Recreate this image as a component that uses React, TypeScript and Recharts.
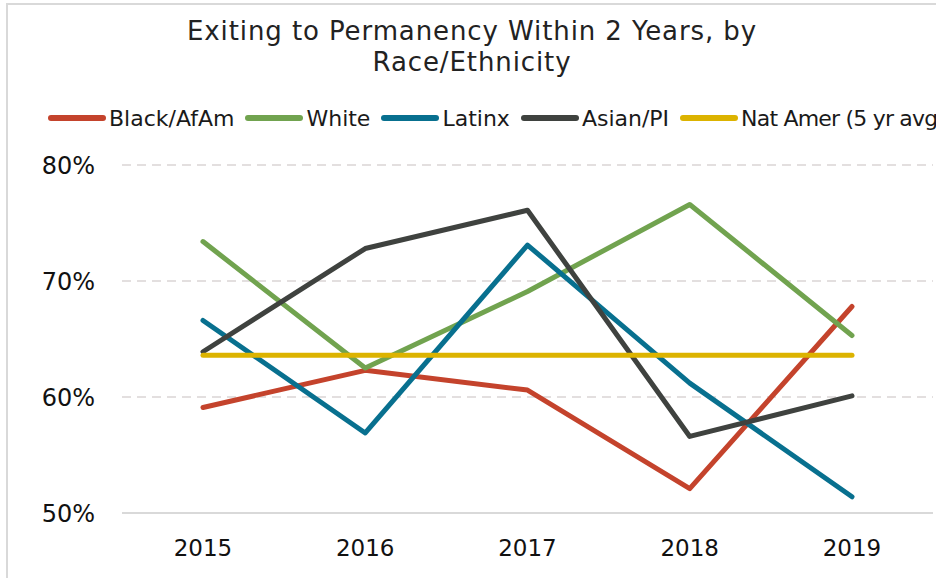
import React from 'react';
import { LineChart, Line, XAxis, YAxis, CartesianGrid } from 'recharts';

const years = ['2015', '2016', '2017', '2018', '2019'];
const blackAfAm = [59.1, 62.3, 60.6, 52.1, 67.8];
const white = [73.4, 62.5, 69.1, 76.6, 65.3];
const latinx = [66.6, 56.9, 73.1, 61.2, 51.4];
const asianPI = [63.9, 72.8, 76.1, 56.6, 60.1];
const natAmer = [63.6, 63.6, 63.6, 63.6, 63.6];
const yTicks = [50, 60, 70, 80];

const seriesInfo = [
  { key: 'black', name: 'Black/AfAm', color: '#c4432c', values: blackAfAm },
  { key: 'white', name: 'White', color: '#71a34f', values: white },
  { key: 'latinx', name: 'Latinx', color: '#08708f', values: latinx },
  { key: 'asian', name: 'Asian/PI', color: '#3f423f', values: asianPI },
  { key: 'natamer', name: 'Nat Amer (5 yr avg)', color: '#dcb300', values: natAmer },
];

const data = years.map((y, i) => {
  const row: Record<string, any> = { year: y };
  seriesInfo.forEach((s) => { row[s.key] = s.values[i]; });
  return row;
});

const FONT = '"DejaVu Sans", sans-serif';

export default function App() {
  return (
    <div style={{ position: 'fixed', left: 0, top: 0, width: 936, height: 578, overflow: 'hidden', background: '#fff', fontFamily: FONT }}>
      <div style={{ position: 'absolute', left: 6, top: 3, width: 1200, height: 1200, border: '2px solid #d9d9d9', boxSizing: 'border-box' }} />
      <div style={{ position: 'absolute', left: 0, top: 16, width: 944, textAlign: 'center', fontSize: 26, lineHeight: '31px', color: '#222', letterSpacing: 0.9 }}>
        Exiting to Permanency Within 2 Years, by<br />Race/Ethnicity
      </div>
      <div style={{ position: 'absolute', left: 48, top: 104, height: 28, display: 'flex', alignItems: 'center', whiteSpace: 'nowrap', fontSize: 22, color: '#1a1a1a' }}>
        {seriesInfo.map((s, i) => (
          <div key={s.key} style={{ display: 'flex', alignItems: 'center', marginRight: 11 }}>
            <div style={{ width: 58, height: 6, borderRadius: 3, background: s.color, marginRight: 3 }} />
            <span style={{ letterSpacing: i === seriesInfo.length - 1 ? -0.8 : 0 }}>{s.name}</span>
          </div>
        ))}
      </div>
      <div style={{ position: 'absolute', left: 0, top: 0 }}>
        <LineChart width={936} height={578} data={data} margin={{ top: 165, right: 3, bottom: 0, left: 10 }}>
          <CartesianGrid vertical={false} stroke="#e3dfdf" strokeWidth={2} strokeDasharray="9 6" />
          <XAxis
            dataKey="year"
            height={65}
            padding={{ left: 81, right: 81 }}
            axisLine={{ stroke: '#d9d9d9', strokeWidth: 2 }}
            tickLine={false}
            tickSize={0}
            tickMargin={27}
            tick={{ fill: '#111', fontSize: 23, fontFamily: FONT }}
          />
          <YAxis
            width={112}
            domain={[50, 80]}
            ticks={yTicks}
            tickFormatter={(v: number) => `${v}%`}
            axisLine={false}
            tickLine={false}
            tickSize={0}
            tickMargin={27}
            tick={{ fill: '#111', fontSize: 24, fontFamily: FONT }}
          />
          {seriesInfo.map((s) => (
            <Line
              key={s.key}
              dataKey={s.key}
              name={s.name}
              stroke={s.color}
              strokeWidth={5}
              strokeLinecap="round"
              strokeLinejoin="round"
              dot={false}
              activeDot={false}
              isAnimationActive={false}
            />
          ))}
        </LineChart>
      </div>
    </div>
  );
}
